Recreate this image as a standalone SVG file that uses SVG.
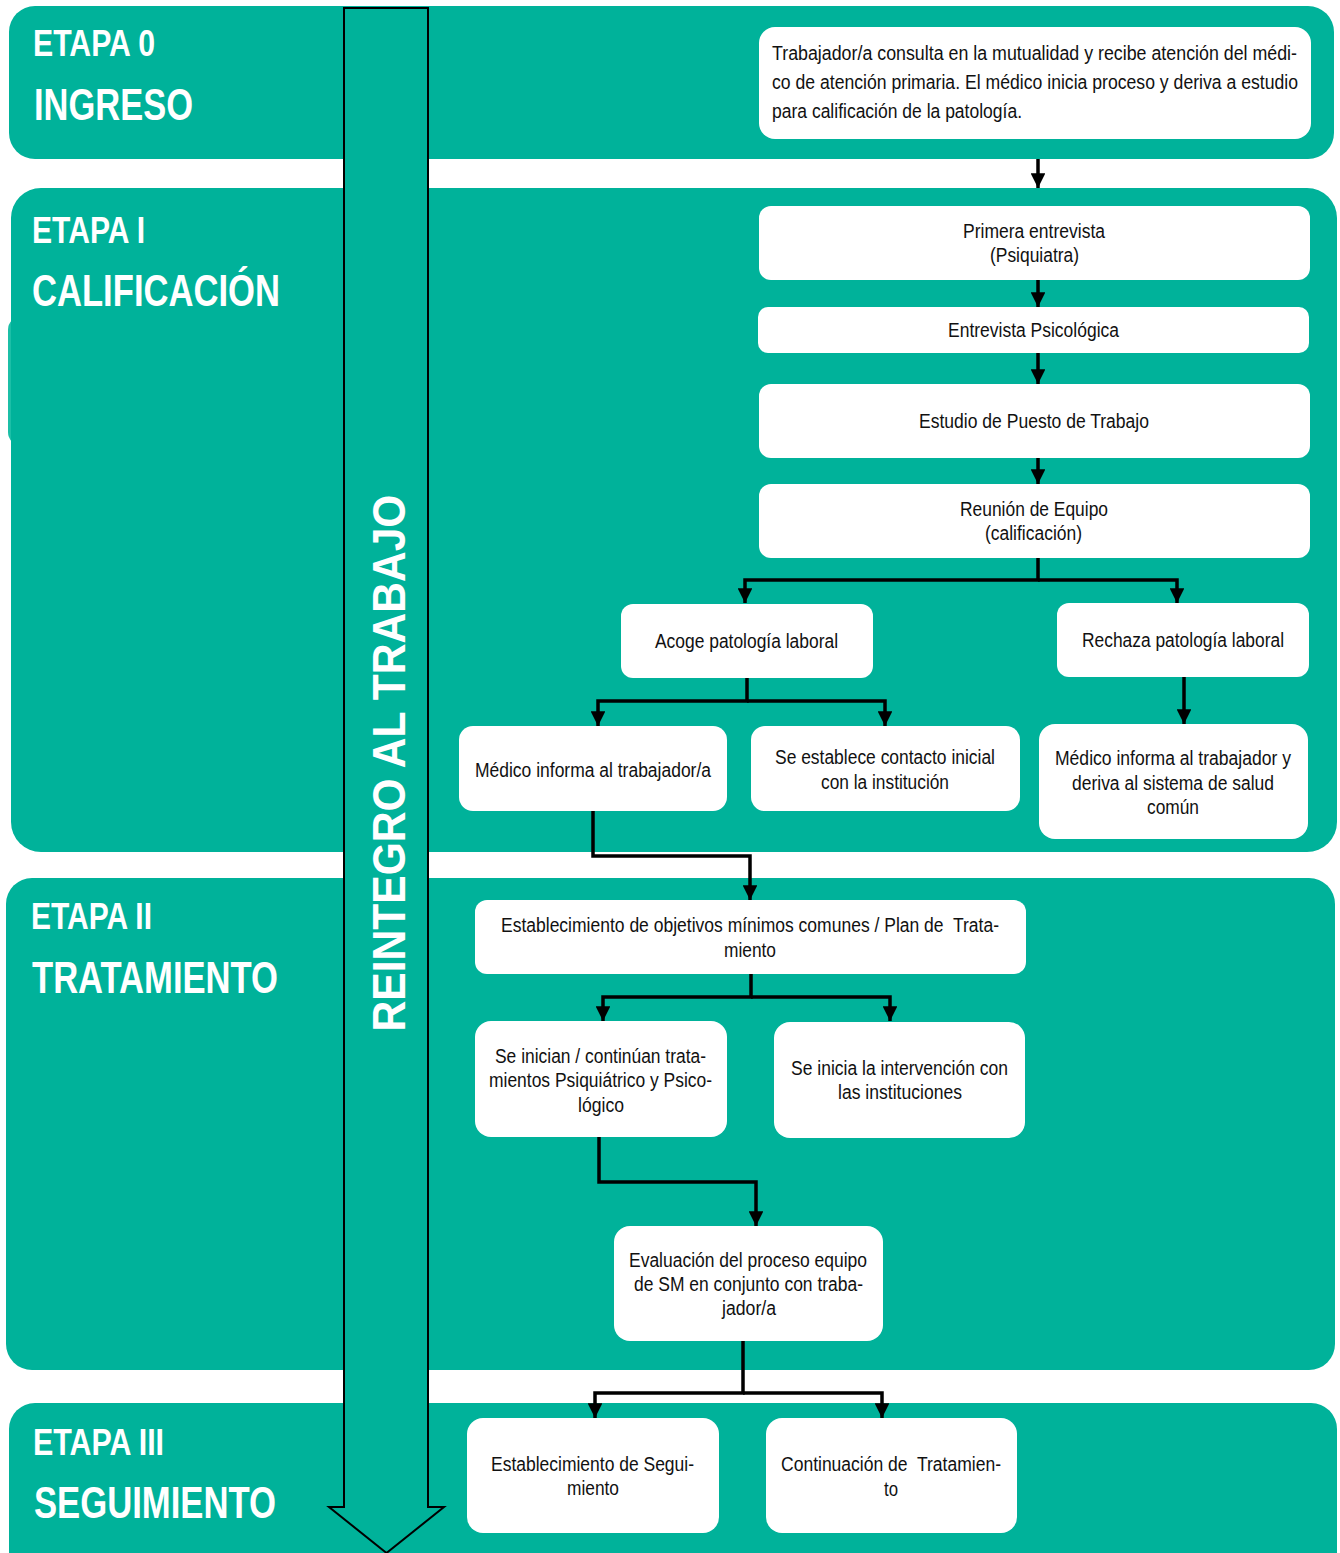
<svg xmlns="http://www.w3.org/2000/svg" width="1340" height="1553" viewBox="0 0 1340 1553">
<style>
.band{fill:#00B29A}
.box{fill:#ffffff}
.lbl{font-family:"Liberation Sans Narrow","Arial Narrow","Liberation Sans",sans-serif;font-size:20px;fill:#111111;text-anchor:middle}
.lbll{font-family:"Liberation Sans Narrow","Arial Narrow","Liberation Sans",sans-serif;font-size:19.5px;fill:#111111}
.h1{font-family:"Liberation Sans Narrow","Arial Narrow","Liberation Sans",sans-serif;font-weight:bold;font-size:36px;fill:#ffffff}
.h2{font-family:"Liberation Sans Narrow","Arial Narrow","Liberation Sans",sans-serif;font-weight:bold;font-size:44px;fill:#ffffff}
.con{fill:none;stroke:#000000;stroke-width:3.5}
</style>
<defs>
<marker id="ah" viewBox="0 0 10 10" refX="10" refY="5" markerWidth="4.2" markerHeight="4.2" markerUnits="strokeWidth" orient="auto">
<path d="M0,0 L10,5 L0,10 Z" fill="#000000"/>
</marker>
</defs>
<rect width="1340" height="1553" fill="#ffffff"/>
<g id="bands">
<rect class="band" x="9" y="6" width="1325" height="153" rx="26"/>
<rect x="8" y="316" width="40" height="130" rx="14" fill="#1CBFA7"/>
<rect class="band" x="11" y="188" width="1326" height="664" rx="30"/>
<rect class="band" x="6" y="878" width="1329" height="492" rx="26"/>
<rect class="band" x="9" y="1403" width="1328" height="180" rx="26"/>
</g>
<g id="headings">
<text class="h1" x="33" y="56" textLength="122" lengthAdjust="spacingAndGlyphs">ETAPA 0</text>
<text class="h2" x="34" y="120" textLength="159" lengthAdjust="spacingAndGlyphs">INGRESO</text>
<text class="h1" x="32" y="243" textLength="113" lengthAdjust="spacingAndGlyphs">ETAPA I</text>
<text class="h2" x="32" y="306" textLength="248" lengthAdjust="spacingAndGlyphs">CALIFICACIÓN</text>
<text class="h1" x="31" y="929" textLength="121" lengthAdjust="spacingAndGlyphs">ETAPA II</text>
<text class="h2" x="32" y="993" textLength="246" lengthAdjust="spacingAndGlyphs">TRATAMIENTO</text>
<text class="h1" x="33" y="1455" textLength="131" lengthAdjust="spacingAndGlyphs">ETAPA III</text>
<text class="h2" x="34" y="1518" textLength="242" lengthAdjust="spacingAndGlyphs">SEGUIMIENTO</text>
</g>
<g id="big-arrow">
<path d="M344,8 L428,8 L428,1507 L444,1507 L386.5,1553 L329,1507 L344,1507 Z" fill="#00B29A" stroke="#000000" stroke-width="2"/>
<text transform="translate(405,763) rotate(-90)" x="0" y="0" text-anchor="middle" font-family="'Liberation Sans',sans-serif" font-weight="bold" font-size="46" fill="#ffffff" textLength="537" lengthAdjust="spacingAndGlyphs">REINTEGRO AL TRABAJO</text>
</g>
<g id="connectors">
<path class="con" d="M1038,159 L1038,188" marker-end="url(#ah)"/>
<path class="con" d="M1038,280 L1038,307" marker-end="url(#ah)"/>
<path class="con" d="M1038,353 L1038,384" marker-end="url(#ah)"/>
<path class="con" d="M1038,458 L1038,484" marker-end="url(#ah)"/>
<path class="con" d="M1038,558 L1038,580 L745,580 L745,603" marker-end="url(#ah)"/>
<path class="con" d="M1038,580 L1177,580 L1177,603" marker-end="url(#ah)"/>
<path class="con" d="M747,678 L747,701 L598,701 L598,726" marker-end="url(#ah)"/>
<path class="con" d="M747,701 L885,701 L885,726" marker-end="url(#ah)"/>
<path class="con" d="M1184,677 L1184,724" marker-end="url(#ah)"/>
<path class="con" d="M593,811 L593,856 L750,856 L750,900" marker-end="url(#ah)"/>
<path class="con" d="M751,974 L751,997 L603,997 L603,1021" marker-end="url(#ah)"/>
<path class="con" d="M751,997 L890,997 L890,1021" marker-end="url(#ah)"/>
<path class="con" d="M599,1137 L599,1182 L756,1182 L756,1226" marker-end="url(#ah)"/>
<path class="con" d="M743,1341 L743,1393 L595,1393 L595,1418" marker-end="url(#ah)"/>
<path class="con" d="M743,1393 L882,1393 L882,1418" marker-end="url(#ah)"/>
</g>
<g id="n0"><rect class="box" x="759" y="27" width="552" height="112" rx="16"/>
<text class="lbll" x="772" y="60" textLength="525" lengthAdjust="spacingAndGlyphs">Trabajador/a consulta en la mutualidad y recibe atención del médi-</text>
<text class="lbll" x="772" y="89" textLength="526" lengthAdjust="spacingAndGlyphs">co de atención primaria. El médico inicia proceso y deriva a estudio</text>
<text class="lbll" x="772" y="118" textLength="250" lengthAdjust="spacingAndGlyphs">para calificación de la patología.</text></g>
<g id="n1"><rect class="box" x="759" y="206" width="551" height="74" rx="12"/>
<text class="lbl" x="1034" y="238" textLength="142" lengthAdjust="spacingAndGlyphs">Primera entrevista</text>
<text class="lbl" x="1034.5" y="262" textLength="89" lengthAdjust="spacingAndGlyphs">(Psiquiatra)</text></g>
<g id="n2"><rect class="box" x="758" y="307" width="551" height="46" rx="10"/>
<text class="lbl" x="1033.5" y="337" textLength="171" lengthAdjust="spacingAndGlyphs">Entrevista Psicológica</text></g>
<g id="n3"><rect class="box" x="759" y="384" width="551" height="74" rx="12"/>
<text class="lbl" x="1034" y="428" textLength="230" lengthAdjust="spacingAndGlyphs">Estudio de Puesto de Trabajo</text></g>
<g id="n4"><rect class="box" x="759" y="484" width="551" height="74" rx="12"/>
<text class="lbl" x="1034" y="516" textLength="148" lengthAdjust="spacingAndGlyphs">Reunión de Equipo</text>
<text class="lbl" x="1033.5" y="540" textLength="97" lengthAdjust="spacingAndGlyphs">(calificación)</text></g>
<g id="n5"><rect class="box" x="621" y="604" width="252" height="74" rx="12"/>
<text class="lbl" x="746.5" y="648" textLength="183" lengthAdjust="spacingAndGlyphs">Acoge patología laboral</text></g>
<g id="n6"><rect class="box" x="1057" y="603" width="252" height="74" rx="12"/>
<text class="lbl" x="1183" y="647" textLength="202" lengthAdjust="spacingAndGlyphs">Rechaza patología laboral</text></g>
<g id="n7"><rect class="box" x="459" y="726" width="268" height="85" rx="14"/>
<text class="lbl" x="593" y="777" textLength="236" lengthAdjust="spacingAndGlyphs">Médico informa al trabajador/a</text></g>
<g id="n8"><rect class="box" x="751" y="726" width="269" height="85" rx="14"/>
<text class="lbl" x="885" y="764" textLength="220" lengthAdjust="spacingAndGlyphs">Se establece contacto inicial</text>
<text class="lbl" x="885" y="789" textLength="128" lengthAdjust="spacingAndGlyphs">con la institución</text></g>
<g id="n9"><rect class="box" x="1039" y="724" width="269" height="115" rx="16"/>
<text class="lbl" x="1173" y="765" textLength="236" lengthAdjust="spacingAndGlyphs">Médico informa al trabajador y</text>
<text class="lbl" x="1173" y="790" textLength="202" lengthAdjust="spacingAndGlyphs">deriva al sistema de salud</text>
<text class="lbl" x="1173" y="814" textLength="52" lengthAdjust="spacingAndGlyphs">común</text></g>
<g id="n10"><rect class="box" x="475" y="900" width="551" height="74" rx="12"/>
<text class="lbl" x="750" y="932" xml:space="preserve" textLength="498" lengthAdjust="spacingAndGlyphs">Establecimiento de objetivos mínimos comunes / Plan de  Trata-</text>
<text class="lbl" x="750" y="957" textLength="52" lengthAdjust="spacingAndGlyphs">miento</text></g>
<g id="n11"><rect class="box" x="475" y="1021" width="252" height="116" rx="16"/>
<text class="lbl" x="600.5" y="1063" textLength="211" lengthAdjust="spacingAndGlyphs">Se inician / continúan trata-</text>
<text class="lbl" x="600.5" y="1087" textLength="223" lengthAdjust="spacingAndGlyphs">mientos Psiquiátrico y Psico-</text>
<text class="lbl" x="601" y="1112" textLength="46" lengthAdjust="spacingAndGlyphs">lógico</text></g>
<g id="n12"><rect class="box" x="774" y="1022" width="251" height="116" rx="16"/>
<text class="lbl" x="899.5" y="1075" textLength="217" lengthAdjust="spacingAndGlyphs">Se inicia la intervención con</text>
<text class="lbl" x="900" y="1099" textLength="124" lengthAdjust="spacingAndGlyphs">las instituciones</text></g>
<g id="n13"><rect class="box" x="614" y="1226" width="269" height="115" rx="16"/>
<text class="lbl" x="748" y="1267" textLength="238" lengthAdjust="spacingAndGlyphs">Evaluación del proceso equipo</text>
<text class="lbl" x="748.5" y="1291" textLength="229" lengthAdjust="spacingAndGlyphs">de SM en conjunto con traba-</text>
<text class="lbl" x="749" y="1315" textLength="54" lengthAdjust="spacingAndGlyphs">jador/a</text></g>
<g id="n14"><rect class="box" x="467" y="1418" width="252" height="115" rx="16"/>
<text class="lbl" x="592.5" y="1471" textLength="203" lengthAdjust="spacingAndGlyphs">Establecimiento de Segui-</text>
<text class="lbl" x="593" y="1495" textLength="52" lengthAdjust="spacingAndGlyphs">miento</text></g>
<g id="n15"><rect class="box" x="766" y="1418" width="251" height="115" rx="16"/>
<text class="lbl" x="891" y="1471" xml:space="preserve" textLength="220" lengthAdjust="spacingAndGlyphs">Continuación de  Tratamien-</text>
<text class="lbl" x="891" y="1496" textLength="14" lengthAdjust="spacingAndGlyphs">to</text></g>
</svg>
